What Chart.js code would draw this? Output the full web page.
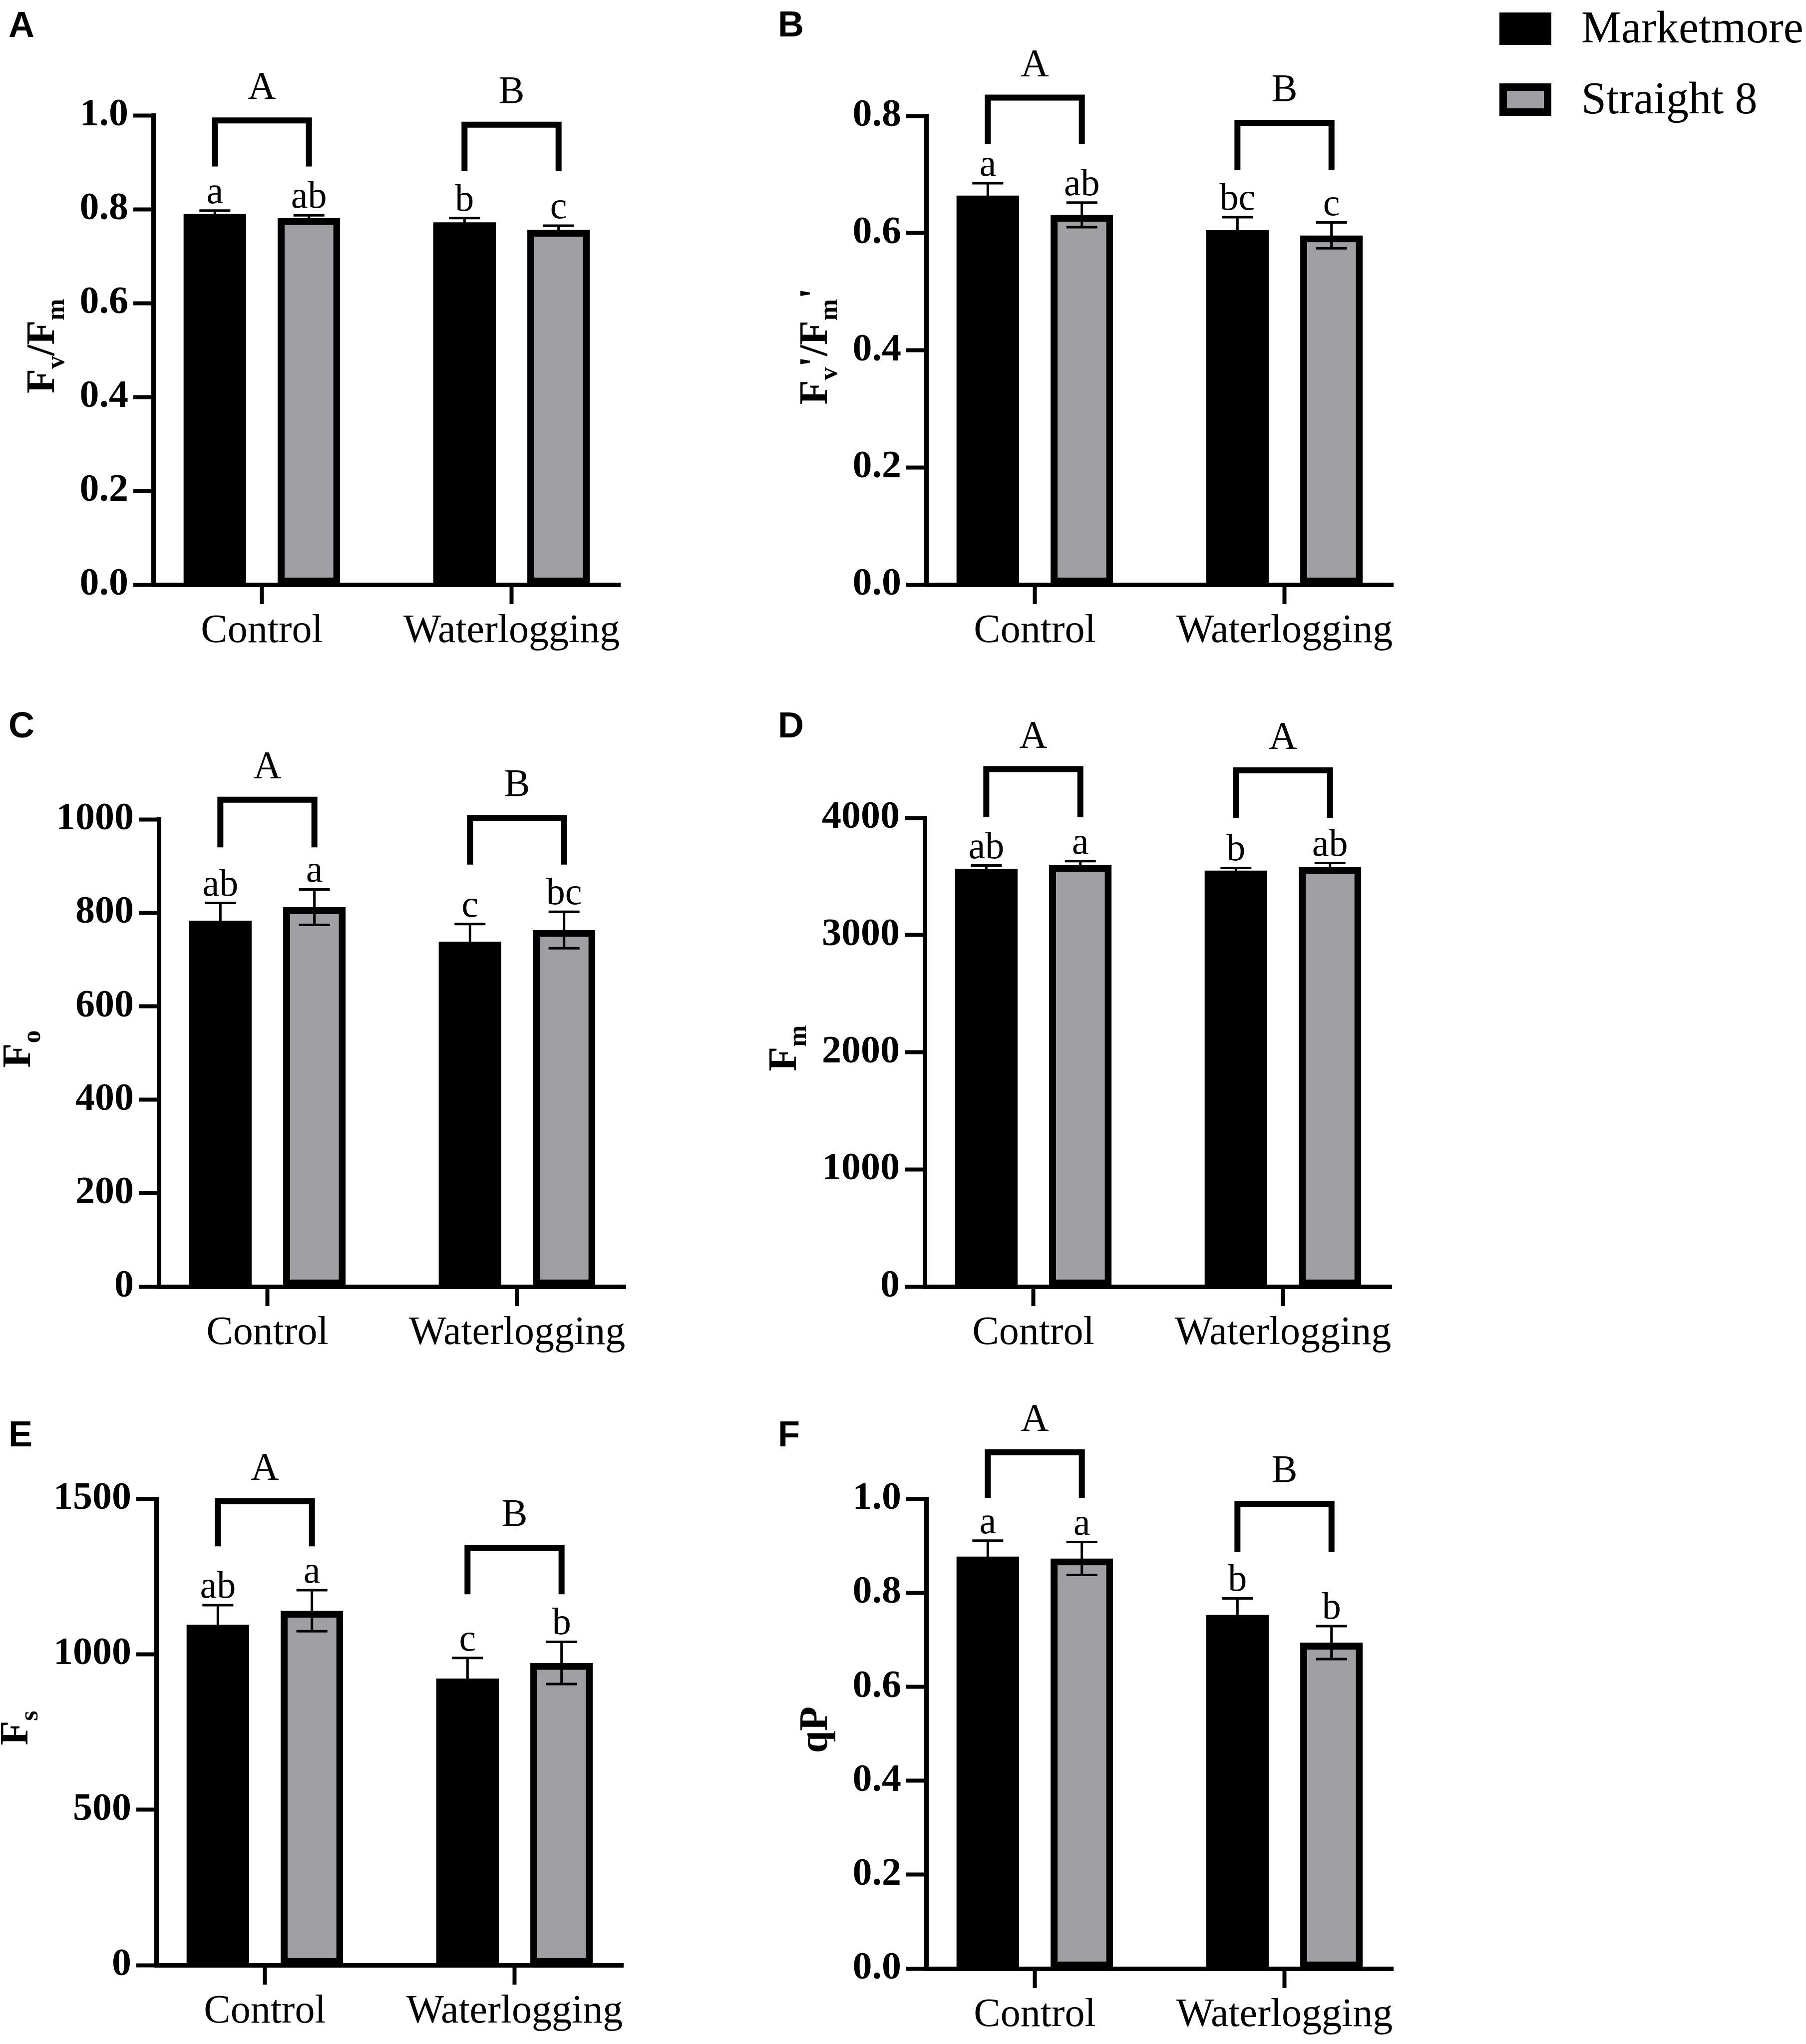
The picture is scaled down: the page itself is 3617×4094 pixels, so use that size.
<!DOCTYPE html>
<html>
<head>
<meta charset="utf-8">
<title>Chlorophyll fluorescence under waterlogging</title>
<script src="https://cdn.jsdelivr.net/npm/chart.js@4.4.1/dist/chart.umd.min.js"></script>
<style>
  html, body { margin: 0; padding: 0; background: #fff; }
  body { width: 3617px; height: 4094px; position: relative; overflow: hidden; }
  canvas { position: absolute; }
  .tag { position: absolute; font: bold 72px 'Liberation Sans', Arial, sans-serif; line-height: 1; color: #000; }
  .key { position: absolute; font: 90px 'Liberation Serif', 'Times New Roman', serif; line-height: 1; white-space: nowrap; color: #000; }
  .swatch { position: absolute; box-sizing: border-box; width: 104px; height: 65px; background: #000; }
</style>
</head>
<body>
<div class="tag" style="left:17px;top:13px">A</div>
<div class="tag" style="left:1558px;top:12px">B</div>
<div class="tag" style="left:17px;top:1416px">C</div>
<div class="tag" style="left:1558px;top:1416px">D</div>
<div class="tag" style="left:17px;top:2836px">E</div>
<div class="tag" style="left:1558px;top:2836px">F</div>

<div class="swatch" style="left:3003px;top:25px"></div>
<div class="key" style="left:3167px;top:10px">Marketmore</div>
<div class="swatch" style="left:3003px;top:167px;background:#9e9ea3;border:15px solid #000"></div>
<div class="key" style="left:3167px;top:152px">Straight 8</div>

<canvas id="cA"></canvas>
<canvas id="cB"></canvas>
<canvas id="cC"></canvas>
<canvas id="cD"></canvas>
<canvas id="cE"></canvas>
<canvas id="cF"></canvas>

<script>
const groups = ['Control', 'Waterlogging'];
const cultivars = ['Marketmore', 'Straight 8'];

// A: Fv/Fm
const fvfmMarketmore = [0.790, 0.772];
const fvfmStraight8 = [0.781, 0.756];
const fvfmErrMarketmore = [0.007, 0.009];
const fvfmErrStraight8 = [0.006, 0.009];
const fvfmLettersMarketmore = ['a', 'b'];
const fvfmLettersStraight8 = ['ab', 'c'];
const fvfmGroupLetters = ['A', 'B'];
const fvfmBracketTop = [0.989, 0.980];
const fvfmBracketEnd = [0.891, 0.881];
const fvfmTicks = [0, 0.2, 0.4, 0.6, 0.8, 1.0];

// B: Fv'/Fm'
const phiMarketmore = [0.664, 0.605];
const phiStraight8 = [0.631, 0.596];
const phiErrMarketmore = [0.021, 0.022];
const phiErrStraight8 = [0.021, 0.022];
const phiLettersMarketmore = ['a', 'bc'];
const phiLettersStraight8 = ['ab', 'c'];
const phiGroupLetters = ['A', 'B'];
const phiBracketTop = [0.831, 0.788];
const phiBracketEnd = [0.752, 0.708];
const phiTicks = [0, 0.2, 0.4, 0.6, 0.8];

// C: Fo
const foMarketmore = [783, 738];
const foStraight8 = [812, 763];
const foErrMarketmore = [38, 38];
const foErrStraight8 = [38, 39];
const foLettersMarketmore = ['ab', 'c'];
const foLettersStraight8 = ['a', 'bc'];
const foGroupLetters = ['A', 'B'];
const foBracketTop = [1042, 1003];
const foBracketEnd = [940, 903];
const foTicks = [0, 200, 400, 600, 800, 1000];

// D: Fm
const fmMarketmore = [3565, 3550];
const fmStraight8 = [3598, 3582];
const fmErrMarketmore = [28, 22];
const fmErrStraight8 = [32, 32];
const fmLettersMarketmore = ['ab', 'b'];
const fmLettersStraight8 = ['a', 'ab'];
const fmGroupLetters = ['A', 'A'];
const fmBracketTop = [4415, 4405];
const fmBracketEnd = [4004, 4000];
const fmTicks = [0, 1000, 2000, 3000, 4000];

// E: Fs
const fsMarketmore = [1095, 922];
const fsStraight8 = [1140, 972];
const fsErrMarketmore = [63, 66];
const fsErrStraight8 = [66, 68];
const fsLettersMarketmore = ['ab', 'c'];
const fsLettersStraight8 = ['a', 'b'];
const fsGroupLetters = ['A', 'B'];
const fsBracketTop = [1492, 1342];
const fsBracketEnd = [1347, 1193];
const fsTicks = [0, 500, 1000, 1500];

// F: qP
const qpMarketmore = [0.877, 0.753];
const qpStraight8 = [0.873, 0.694];
const qpErrMarketmore = [0.034, 0.035];
const qpErrStraight8 = [0.035, 0.035];
const qpLettersMarketmore = ['a', 'b'];
const qpLettersStraight8 = ['a', 'b'];
const qpGroupLetters = ['A', 'B'];
const qpBracketTop = [1.099, 0.989];
const qpBracketEnd = [1.002, 0.887];
const qpTicks = [0, 0.2, 0.4, 0.6, 0.8, 1.0];

const SERIF = "'Liberation Serif', 'Times New Roman', serif";
const GREY = '#9e9ea3';
const PLOT_W = 935;

// canvas box [left, top, width, height] and plot frame [axis x, top y, bottom y] in page pixels
const frames = {
  cA: { box: [0, 0, 1480, 1370], axis: [307, 231, 1171] },
  cB: { box: [1480, 0, 1420, 1370], axis: [1855, 232, 1171] },
  cC: { box: [0, 1380, 1480, 1390], axis: [318, 1641, 2577] },
  cD: { box: [1480, 1380, 1420, 1390], axis: [1852, 1638, 2577] },
  cE: { box: [0, 2770, 1480, 1324], axis: [313, 3002, 3936] },
  cF: { box: [1480, 2770, 1420, 1324], axis: [1855, 3002, 3943] }
};

const panels = [
  { id: 'cA', m: fvfmMarketmore, s: fvfmStraight8, em: fvfmErrMarketmore, es: fvfmErrStraight8,
    lm: fvfmLettersMarketmore, ls: fvfmLettersStraight8, gl: fvfmGroupLetters,
    bt: fvfmBracketTop, be: fvfmBracketEnd, ticks: fvfmTicks, dec: 1,
    title: [['F'], ['v', 1], ['/'], ['F'], ['m', 1]] },
  { id: 'cB', m: phiMarketmore, s: phiStraight8, em: phiErrMarketmore, es: phiErrStraight8,
    lm: phiLettersMarketmore, ls: phiLettersStraight8, gl: phiGroupLetters,
    bt: phiBracketTop, be: phiBracketEnd, ticks: phiTicks, dec: 1,
    title: [['F'], ['v', 1], ["'"], ['/'], ['F'], ['m', 1], ["'"]] },
  { id: 'cC', m: foMarketmore, s: foStraight8, em: foErrMarketmore, es: foErrStraight8,
    lm: foLettersMarketmore, ls: foLettersStraight8, gl: foGroupLetters,
    bt: foBracketTop, be: foBracketEnd, ticks: foTicks, dec: 0,
    title: [['F'], ['o', 1]] },
  { id: 'cD', m: fmMarketmore, s: fmStraight8, em: fmErrMarketmore, es: fmErrStraight8,
    lm: fmLettersMarketmore, ls: fmLettersStraight8, gl: fmGroupLetters,
    bt: fmBracketTop, be: fmBracketEnd, ticks: fmTicks, dec: 0,
    title: [['F'], ['m', 1]] },
  { id: 'cE', m: fsMarketmore, s: fsStraight8, em: fsErrMarketmore, es: fsErrStraight8,
    lm: fsLettersMarketmore, ls: fsLettersStraight8, gl: fsGroupLetters,
    bt: fsBracketTop, be: fsBracketEnd, ticks: fsTicks, dec: 0,
    title: [['F'], ['s', 1]] },
  { id: 'cF', m: qpMarketmore, s: qpStraight8, em: qpErrMarketmore, es: qpErrStraight8,
    lm: qpLettersMarketmore, ls: qpLettersStraight8, gl: qpGroupLetters,
    bt: qpBracketTop, be: qpBracketEnd, ticks: qpTicks, dec: 1,
    title: [['qP']] }
];

// error bars, letters, brackets and the y title with subscripts
function annotations(p) {
  return {
    id: 'annotate',
    afterDatasetsDraw(chart) {
      const ctx = chart.ctx;
      const y = chart.scales.y;
      ctx.save();
      ctx.strokeStyle = '#000';
      ctx.lineWidth = 5;
      [p.m, p.s].forEach((vals, d) => {
        const errs = d ? p.es : p.em;
        chart.getDatasetMeta(d).data.forEach((bar, i) => {
          const hi = y.getPixelForValue(vals[i] + errs[i]);
          const lo = y.getPixelForValue(vals[i] - errs[i]);
          ctx.beginPath();
          ctx.moveTo(bar.x, hi); ctx.lineTo(bar.x, lo);
          ctx.moveTo(bar.x - 31, hi); ctx.lineTo(bar.x + 31, hi);
          ctx.moveTo(bar.x - 31, lo); ctx.lineTo(bar.x + 31, lo);
          ctx.stroke();
        });
      });
      ctx.restore();
    },
    afterDraw(chart) {
      const ctx = chart.ctx;
      const y = chart.scales.y;
      const area = chart.chartArea;
      const m0 = chart.getDatasetMeta(0).data;
      const m1 = chart.getDatasetMeta(1).data;
      ctx.save();
      ctx.fillStyle = '#000';
      ctx.strokeStyle = '#000';
      ctx.textAlign = 'center';
      ctx.textBaseline = 'alphabetic';

      ctx.font = '76px ' + SERIF;
      [[m0, p.m, p.em, p.lm], [m1, p.s, p.es, p.ls]].forEach(([bars, vals, errs, lets]) => {
        bars.forEach((bar, i) => {
          ctx.fillText(lets[i], bar.x, y.getPixelForValue(vals[i] + errs[i]) - 15);
        });
      });

      ctx.lineWidth = 12;
      ctx.lineJoin = 'miter';
      ctx.font = '78px ' + SERIF;
      groups.forEach((g, i) => {
        const x1 = m0[i].x, x2 = m1[i].x;
        const t = y.getPixelForValue(p.bt[i]);
        const e = y.getPixelForValue(p.be[i]);
        ctx.beginPath();
        ctx.moveTo(x1, e); ctx.lineTo(x1, t); ctx.lineTo(x2, t); ctx.lineTo(x2, e);
        ctx.stroke();
        ctx.fillText(p.gl[i], (x1 + x2) / 2, t - 44);
      });

      // y axis title
      ctx.font = 'bold 78px ' + SERIF;
      const widest = Math.max(...y.ticks.map(t => ctx.measureText(t.label).width));
      const bx = area.left - 50 - widest - 52;
      const cy = (area.top + area.bottom) / 2 - 8;
      const fontOf = sub => sub ? 'bold 52px ' + SERIF : 'bold 80px ' + SERIF;
      let total = 0;
      p.title.forEach(([txt, sub]) => { ctx.font = fontOf(sub); total += ctx.measureText(txt).width; });
      ctx.translate(bx, cy);
      ctx.rotate(-Math.PI / 2);
      ctx.textAlign = 'left';
      let cx = -total / 2;
      p.title.forEach(([txt, sub]) => {
        ctx.font = fontOf(sub);
        ctx.fillText(txt, cx, sub ? 20 : 0);
        cx += ctx.measureText(txt).width;
      });
      ctx.restore();
    }
  };
}

function makePanel(p) {
  const f = frames[p.id];
  const canvas = document.getElementById(p.id);
  canvas.width = f.box[2];
  canvas.height = f.box[3];
  canvas.style.left = f.box[0] + 'px';
  canvas.style.top = f.box[1] + 'px';
  const axisX = f.axis[0] - f.box[0];
  const top = f.axis[1] - f.box[1];
  const bottom = f.axis[2] - f.box[1];

  const axisGrid = { display: true, drawOnChartArea: false, drawTicks: true, tickLength: 40, tickWidth: 8, tickColor: '#000', offset: false };
  const axisBorder = { display: true, color: '#000', width: 9 };

  new Chart(canvas, {
    type: 'bar',
    data: {
      datasets: [
        { label: cultivars[0], data: p.m.map((v, i) => ({ x: i, y: v })),
          backgroundColor: '#000', borderWidth: 0,
          categoryPercentage: 0.7535, barPercentage: 0.665 },
        { label: cultivars[1], data: p.s.map((v, i) => ({ x: i, y: v })),
          backgroundColor: GREY, borderColor: '#000', borderWidth: 14, borderSkipped: false,
          categoryPercentage: 0.7535, barPercentage: 0.665 }
      ]
    },
    options: {
      responsive: false,
      animation: false,
      devicePixelRatio: 1,
      layout: { padding: { left: 0, top: top, right: canvas.width - axisX - PLOT_W, bottom: 0 } },
      plugins: { legend: { display: false }, tooltip: { enabled: false } },
      scales: {
        x: {
          type: 'linear', min: -0.435, max: 1.435, offset: false,
          grid: Object.assign({}, axisGrid, { tickLength: 39 }),
          border: axisBorder,
          ticks: { color: '#000', padding: 7, maxRotation: 0, minRotation: 0, autoSkip: false,
                   font: { family: SERIF, size: 80 },
                   callback: v => groups[v] },
          afterBuildTicks: s => { s.ticks = groups.map((g, i) => ({ value: i })); },
          afterFit: s => { s.height = canvas.height - bottom; }
        },
        y: {
          type: 'linear', min: 0, max: p.ticks[p.ticks.length - 1],
          grid: axisGrid,
          border: axisBorder,
          ticks: { color: '#000', padding: 10, autoSkip: false,
                   font: { family: SERIF, size: 78, weight: 'bold' },
                   callback: v => v.toFixed(p.dec) },
          afterBuildTicks: s => { s.ticks = p.ticks.map(v => ({ value: v })); },
          afterFit: s => { s.width = axisX; }
        }
      }
    },
    plugins: [annotations(p)]
  });
}

panels.forEach(makePanel);
</script>
</body>
</html>
